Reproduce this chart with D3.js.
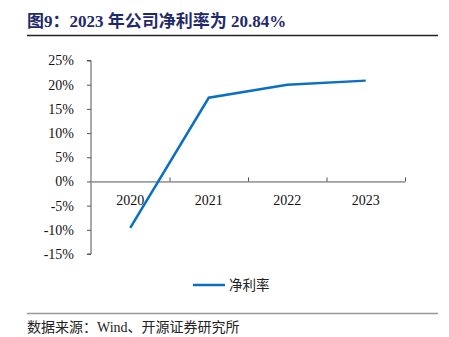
<!DOCTYPE html>
<html><head><meta charset="utf-8">
<script src="https://cdn.jsdelivr.net/npm/d3@7"></script>
<style>body{margin:0;background:#fff}text{font-family:"Liberation Serif","Noto Sans CJK SC",serif}</style>
</head><body>
<svg id="c" width="449" height="337"></svg>
<script>
const categories = ["2020","2021","2022","2023"];
const netMargin = [-9.6, 17.3, 20.0, 20.84];
const yTicks = [-15,-10,-5,0,5,10,15,20,25];
const title = "图9：2023 年公司净利率为 20.84%";
const seriesName = "净利率";
const source = "数据来源：Wind、开源证券研究所";

const svg = d3.select("#c");
const x = d3.scaleBand().domain(categories).range([91,405]);
const y = d3.scaleLinear().domain([-15,25]).range([254,60.5]);

svg.append("text").attr("x",27).attr("y",27).attr("font-size",17).attr("font-weight","bold").attr("fill","#1f2a6b").text(title);
svg.append("line").attr("x1",27).attr("x2",438).attr("y1",35.5).attr("y2",35.5).attr("stroke","#222").attr("stroke-width",1.5);

const ya = svg.append("g").attr("transform","translate(91,0)")
  .call(d3.axisLeft(y).tickValues(yTicks).tickFormat(d=>d+"%").tickSize(4).tickPadding(13));
ya.select(".domain").attr("stroke","#555").attr("d","M-4,"+y(25)+"H0V"+y(-15)+"H-4");
ya.selectAll(".tick line").attr("stroke","#555");
ya.selectAll("text").attr("font-size",14).attr("fill","#111").style("font-family","Liberation Serif");

const xa = svg.append("g").attr("transform","translate(0,"+y(0)+")")
  .call(d3.axisBottom(x).tickSize(0).tickPadding(14));
xa.select(".domain").attr("stroke","#555");
xa.selectAll("text").attr("font-size",14).attr("fill","#111").style("font-family","Liberation Serif");
const bounds = categories.map(c=>x(c)+x.bandwidth());
svg.append("g").selectAll("line").data(bounds).join("line")
  .attr("x1",d=>d+0.5).attr("x2",d=>d+0.5).attr("y1",y(0)).attr("y2",y(0)-4).attr("stroke","#555");

const line = d3.line().x((d,i)=>x(categories[i])+x.bandwidth()/2).y(d=>y(d));
svg.append("path").datum(netMargin).attr("d",line).attr("fill","none").attr("stroke","#0c6fc4").attr("stroke-width",2.5);

svg.append("line").attr("x1",193).attr("x2",225).attr("y1",285).attr("y2",285).attr("stroke","#0c6fc4").attr("stroke-width",2.5);
svg.append("text").attr("x",229).attr("y",290).attr("font-size",13.5).attr("fill","#222").text(seriesName);

svg.append("line").attr("x1",27).attr("x2",438).attr("y1",313.5).attr("y2",313.5).attr("stroke","#999").attr("stroke-width",1.5);
svg.append("text").attr("x",27).attr("y",332).attr("font-size",14).attr("fill","#222").text(source);
</script>
</body></html>
